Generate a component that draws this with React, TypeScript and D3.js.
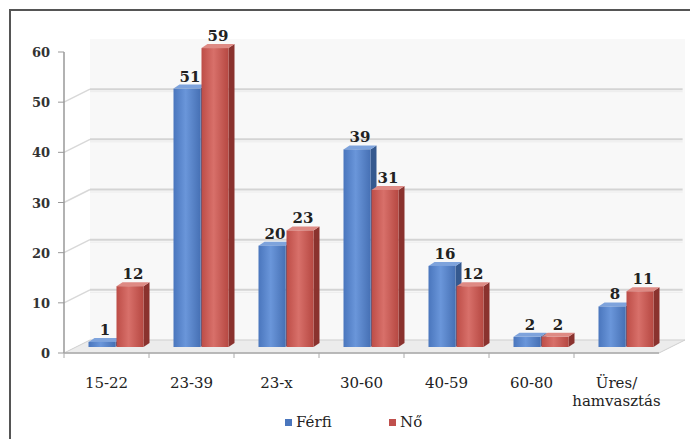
import React from "react";
import * as d3 from "d3";

const categories = ["15-22", "23-39", "23-x", "30-60", "40-59", "60-80", "Üres/\nhamvasztás"];
const ferfi = [1, 51, 20, 39, 16, 2, 8];
const no = [12, 59, 23, 31, 12, 2, 11];
const yTicks = [0, 10, 20, 30, 40, 50, 60];
const seriesNames = ["Férfi", "Nő"];

const W = 690, H = 439;
const DX = 26, DY = -13; // back wall offset
const BDX = 6, BDY = -4; // bar depth

export default function App() {
  const yAxis = d3.scaleLinear().domain([0, 60]).range([353, 52]);
  const yBar = d3.scaleLinear().domain([0, 60]).range([347, 43]);
  const x = d3.scaleBand().domain(categories).range([64, 659]);
  const inner = d3.scaleBand().domain(seriesNames).range([0, 56]).padding(0.0);
  const series = [ferfi, no];
  const colors = [
    { front: "url(#gBlue)", side: "#35598f", top: "#7ea3dc" },
    { front: "url(#gRed)", side: "#8a322e", top: "#de8a84" },
  ];
  const serifStyle = { fontFamily: '"DejaVu Serif", "Liberation Serif", "Times New Roman", Times, serif' };
  const base = yBar(0);

  return (
    <svg width={W} height={H} style={{ position: "absolute", left: 0, top: 0, ...serifStyle }}>
      <defs>
        <linearGradient id="gBlue" x1="0" x2="1" y1="0" y2="0">
          <stop offset="0" stopColor="#4a76bd" />
          <stop offset="0.45" stopColor="#6a96da" />
          <stop offset="1" stopColor="#4670b4" />
        </linearGradient>
        <linearGradient id="gRed" x1="0" x2="1" y1="0" y2="0">
          <stop offset="0" stopColor="#bd4d47" />
          <stop offset="0.45" stopColor="#d8706a" />
          <stop offset="1" stopColor="#b64842" />
        </linearGradient>
      </defs>
      <rect x={0} y={0} width={W} height={H} fill="#ffffff" />
      <path d={`M10,${H} L10,10 L${W},10`} fill="none" stroke="#555" strokeWidth={2} />
      {/* back wall */}
      <rect x={64 + DX} y={yAxis(60) + DY} width={659 - 64} height={yAxis(0) - yAxis(60)} fill="#f8f8f8" />
      {yTicks.filter((t) => t > 0 && t < 60).map((t) => (
        <g key={"g" + t}>
          <line x1={64} y1={yAxis(t)} x2={64 + DX} y2={yAxis(t) + DY} stroke="#d8d8d8" strokeWidth={1.5} />
          <line x1={64 + DX} y1={yAxis(t) + DY} x2={659 + DX / 1.1} y2={yAxis(t) + DY} stroke="#d4d4d4" strokeWidth={2} />
          <line x1={64 + DX} y1={yAxis(t) + DY + 2.5} x2={659 + DX / 1.1} y2={yAxis(t) + DY + 2.5} stroke="#ececec" strokeWidth={1} />
        </g>
      ))}
      {/* floor */}
      <path
        d={`M64,${yAxis(0)} L659,${yAxis(0)} L${659 + DX},${yAxis(0) + DY} L${64 + DX},${yAxis(0) + DY} Z`}
        fill="#ececec"
        stroke="#cfcfcf"
      />
      {/* y axis */}
      <line x1={64} y1={yAxis(60)} x2={64} y2={yAxis(0)} stroke="#999" strokeWidth={1.5} />
      {yTicks.map((t) => (
        <g key={"t" + t}>
          <line x1={58} y1={yAxis(t)} x2={64} y2={yAxis(t)} stroke="#999" />
          <text x={50} y={yAxis(t) + 5} textAnchor="end" style={serifStyle} fontSize={13} fontWeight="bold" fill="#333">
            {t}
          </text>
        </g>
      ))}
      {/* x axis */}
      <line x1={64} y1={yAxis(0)} x2={659} y2={yAxis(0)} stroke="#aaa" strokeWidth={1.5} />
      {categories.map((c, i) => (
        <line key={"xt" + i} x1={x(c)!} y1={yAxis(0)} x2={x(c)!} y2={yAxis(0) + 5} stroke="#aaa" />
      ))}
      {/* bars */}
      {categories.map((c, i) => {
        const cx = x(c)! + x.bandwidth() / 2 + 10;
        return series.map((s, si) => {
          const bw = inner.bandwidth() - 1;
          const bx = cx - 28 + inner(seriesNames[si])!;
          const top = yBar(s[i]);
          const col = colors[si];
          return (
            <g key={c + si}>
              <path
                d={`M${bx + bw},${top} L${bx + bw + BDX},${top + BDY} L${bx + bw + BDX},${base + BDY} L${bx + bw},${base} Z`}
                fill={col.side}
              />
              <path
                d={`M${bx},${top} L${bx + BDX},${top + BDY} L${bx + bw + BDX},${top + BDY} L${bx + bw},${top} Z`}
                fill={col.top}
              />
              <rect x={bx} y={top} width={bw} height={base - top} fill={col.front} />
              <text
                x={bx + bw / 2 + 3}
                y={top - 7}
                textAnchor="middle"
                style={serifStyle}
                fontSize={15}
                fontWeight="bold"
                fill="#222"
              >
                {s[i]}
              </text>
            </g>
          );
        });
      })}
      {/* category labels */}
      {categories.map((c, i) => {
        const lines = c.split("\n");
        const cx = x(c)! + x.bandwidth() / 2;
        return (
          <text key={"cl" + i} x={cx} y={388} textAnchor="middle" style={serifStyle} fontSize={15} fill="#222">
            {lines.map((l, li) => (
              <tspan key={li} x={cx} dy={li === 0 ? 0 : 18}>
                {l}
              </tspan>
            ))}
          </text>
        );
      })}
      {/* legend */}
      <rect x={285} y={419} width={7} height={7} fill="#4a76bd" />
      <text x={296} y={427} style={serifStyle} fontSize={15} fill="#222">
        {seriesNames[0]}
      </text>
      <rect x={389} y={419} width={7} height={7} fill="#c0504d" />
      <text x={400} y={427} style={serifStyle} fontSize={15} fill="#222">
        {seriesNames[1]}
      </text>
    </svg>
  );
}
